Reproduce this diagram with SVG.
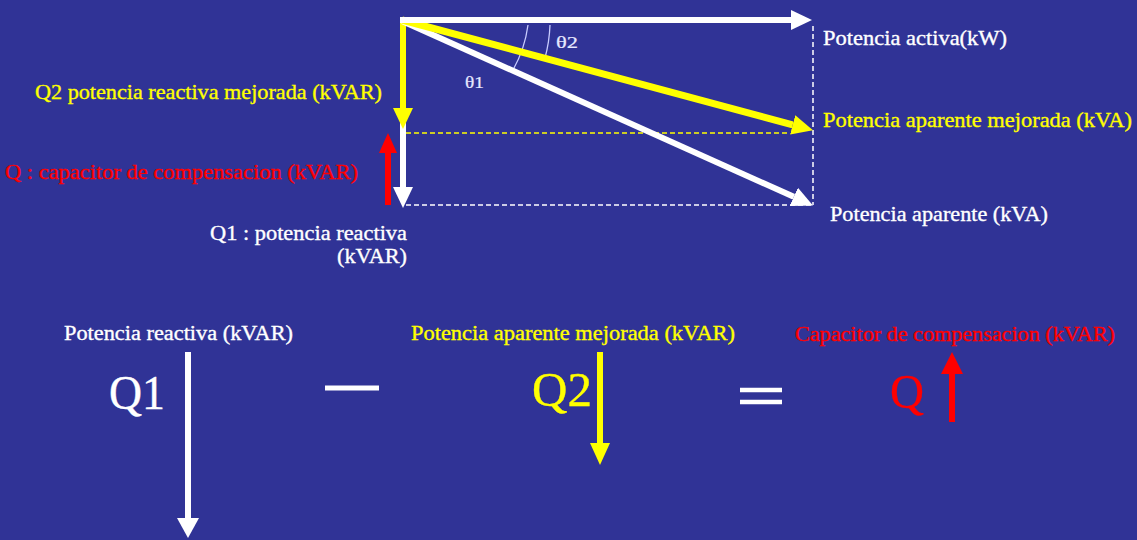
<svg xmlns="http://www.w3.org/2000/svg" width="1137" height="540" viewBox="0 0 1137 540">
<style>
text{font-family:"Liberation Serif","Times New Roman",serif;stroke-width:0.35;}
.lbl{font-size:21px;}
.sm{font-size:20px;}
.big{font-size:49px;}
.th{font-size:16px;fill:#e6e8ff;stroke:#e6e8ff;stroke-width:0.2;}
.w{fill:#ffffff;stroke:#ffffff;}
.y{fill:#ffff00;stroke:#ffff00;}
.r{fill:#ff0000;stroke:#ff0000;}
.dash{fill:none;stroke-width:1.5;stroke-dasharray:5 3;}
.arc{fill:none;stroke:#c8ccff;stroke-width:1.3;}
</style>
<defs>
<marker id="hw" markerUnits="userSpaceOnUse" markerWidth="22" markerHeight="20" refX="0" refY="10" orient="auto"><path d="M0,0 L21,10 L0,20 z" fill="#ffffff"/></marker>
<marker id="hy" markerUnits="userSpaceOnUse" markerWidth="22" markerHeight="20" refX="0" refY="10" orient="auto"><path d="M0,0 L21,10 L0,20 z" fill="#ffff00"/></marker>
<marker id="hr" markerUnits="userSpaceOnUse" markerWidth="21" markerHeight="18" refX="0" refY="9" orient="auto"><path d="M0,0 L20,9 L0,18 z" fill="#ff0000"/></marker>
<marker id="hw2" markerUnits="userSpaceOnUse" markerWidth="21" markerHeight="22" refX="0" refY="11" orient="auto"><path d="M0,0 L20,11 L0,22 z" fill="#ffffff"/></marker>
<marker id="hy2" markerUnits="userSpaceOnUse" markerWidth="23" markerHeight="20" refX="0" refY="10" orient="auto"><path d="M0,0 L22,10 L0,20 z" fill="#ffff00"/></marker>
<marker id="hr2" markerUnits="userSpaceOnUse" markerWidth="23" markerHeight="22" refX="0" refY="11" orient="auto"><path d="M0,0 L22,11 L0,22 z" fill="#ff0000"/></marker>
</defs>
<rect x="0" y="0" width="1137" height="540" fill="#303396"/>

<g id="connectors">
<line class="dash" stroke="#ffffff" x1="813" y1="26" x2="813" y2="205"/>
<line class="dash" stroke="#ffffff" x1="406" y1="205" x2="813" y2="205"/>
<line class="dash" stroke="#ffff00" x1="406" y1="133" x2="790" y2="133"/>
<path class="arc" d="M528,25 A126,126 0 0 1 513,70"/>
<path class="arc" d="M550,25 A148,148 0 0 1 545,58"/>
<line x1="403" y1="20" x2="403" y2="187" stroke="#ffffff" stroke-width="6" marker-end="url(#hw)"/>
<line x1="403" y1="18" x2="403" y2="108" stroke="#ffff00" stroke-width="6" marker-end="url(#hy)"/>
<line x1="388" y1="205" x2="388" y2="153" stroke="#ff0000" stroke-width="6" marker-end="url(#hr)"/>
<line x1="402" y1="21" x2="793.8" y2="196.8" stroke="#ffffff" stroke-width="6" marker-end="url(#hw)"/>
<line x1="402" y1="20" x2="792.7" y2="124.8" stroke="#ffff00" stroke-width="7" marker-end="url(#hy)"/>
<line x1="400" y1="20" x2="791" y2="20" stroke="#ffffff" stroke-width="6" marker-end="url(#hw)"/>
<line x1="188" y1="352" x2="188" y2="518" stroke="#ffffff" stroke-width="6" marker-end="url(#hw2)"/>
<line x1="600" y1="352" x2="600" y2="443" stroke="#ffff00" stroke-width="6" marker-end="url(#hy2)"/>
<line x1="952" y1="422" x2="952" y2="374" stroke="#ff0000" stroke-width="6" marker-end="url(#hr2)"/>
</g>

<g id="top-labels">
<text class="lbl w" x="823" y="45" textLength="184" lengthAdjust="spacingAndGlyphs">Potencia activa(kW)</text>
<text class="lbl y" x="823" y="127" textLength="309" lengthAdjust="spacingAndGlyphs">Potencia aparente mejorada (kVA)</text>
<text class="lbl w" x="830" y="221" textLength="218" lengthAdjust="spacingAndGlyphs">Potencia aparente (kVA)</text>
<text class="lbl y" x="35" y="99" textLength="347" lengthAdjust="spacingAndGlyphs">Q2 potencia reactiva mejorada (kVAR)</text>
<text class="lbl r" x="5" y="179" textLength="353" lengthAdjust="spacingAndGlyphs">Q : capacitor de compensacion (kVAR)</text>
<text class="lbl w" x="210" y="240" textLength="197" lengthAdjust="spacingAndGlyphs">Q1 : potencia reactiva</text>
<text class="lbl w" x="337" y="263" textLength="70" lengthAdjust="spacingAndGlyphs">(kVAR)</text>
<text class="th" x="556" y="48" textLength="22" lengthAdjust="spacingAndGlyphs">θ2</text>
<text class="th" x="465" y="88" textLength="19" lengthAdjust="spacingAndGlyphs">θ1</text>
</g>

<g id="equation">
<text class="sm w" x="64" y="340" textLength="229" lengthAdjust="spacingAndGlyphs">Potencia reactiva (kVAR)</text>
<text class="sm y" x="411" y="340" textLength="324" lengthAdjust="spacingAndGlyphs">Potencia aparente mejorada (kVAR)</text>
<text class="sm r" x="795" y="341" textLength="320" lengthAdjust="spacingAndGlyphs">Capacitor de compensacion (kVAR)</text>
<text class="big w" x="109" y="409" textLength="56" lengthAdjust="spacingAndGlyphs">Q1</text>
<text class="big y" x="532" y="406" textLength="60" lengthAdjust="spacingAndGlyphs">Q2</text>
<text class="big r" x="890" y="408" textLength="34" lengthAdjust="spacingAndGlyphs">Q</text>
<line x1="325" y1="388" x2="379" y2="388" stroke="#ffffff" stroke-width="5"/>
<line x1="740" y1="390" x2="782" y2="390" stroke="#ffffff" stroke-width="4.5"/>
<line x1="740" y1="402" x2="782" y2="402" stroke="#ffffff" stroke-width="4.5"/>
</g>
</svg>
